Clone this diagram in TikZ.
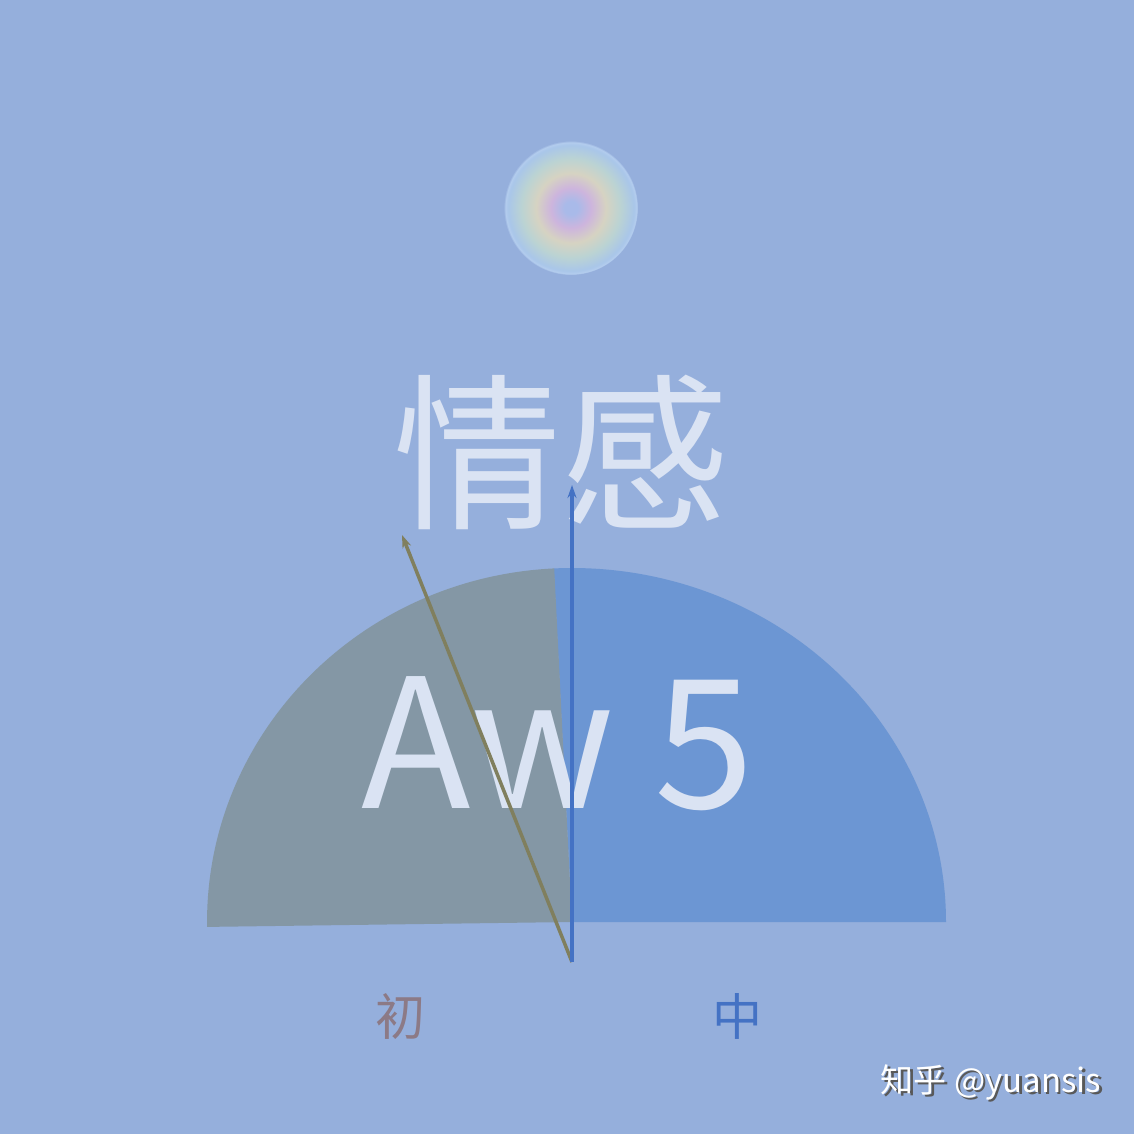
\documentclass[tikz,border=0pt]{standalone}
\usepackage{fontspec}
\newfontfamily\cjk{Noto Sans CJK SC}
\usetikzlibrary{arrows.meta,positioning,calc,shadows}
\definecolor{bgblue}{HTML}{95AFDC}
\definecolor{fanblue}{HTML}{6C96D3}
\definecolor{fangrey}{HTML}{8497A5}
\definecolor{paletext}{HTML}{DAE3F3}
\definecolor{olivearrow}{HTML}{807F5E}
\definecolor{deepblue}{HTML}{4472C4}
\definecolor{mauve}{HTML}{8C7A86}
\definecolor{halocore}{HTML}{A9BAE9}
\definecolor{halopink}{HTML}{CDB5DD}
\definecolor{haloyellow}{HTML}{D6D3C2}
\definecolor{halogreen}{HTML}{BBD3D3}
\definecolor{haloedge}{HTML}{A9C6E9}
\definecolor{halorim}{HTML}{B4CDEE}
\pgfdeclareradialshading{halo}{\pgfpoint{0bp}{0bp}}{%
  color(0bp)=(halocore);
  color(2.5bp)=(halocore);
  color(7.5bp)=(halopink);
  color(13bp)=(haloyellow);
  color(18.5bp)=(halogreen);
  color(23.5bp)=(haloedge);
  color(24.6bp)=(halorim);
  color(25bp)=(bgblue);
  color(50bp)=(bgblue)}
\tikzset{
    bigword/.style={
        text=paletext,
        font=\cjk\fontsize{168}{168}\selectfont,
        inner sep=0pt,
        anchor=base,
    },
    tag/.style={
        font=\cjk\fontsize{50}{50}\selectfont,
        inner sep=0pt,
        anchor=base,
    },
    vec/.style={
        line width=3.5pt,
        -{Stealth[length=13pt,width=9pt]},
    },
    watermark/.style={
        font=\cjk\fontsize{33}{33}\selectfont,
        inner sep=0pt,
        anchor=base,
    },
}

\begin{document}
\begin{tikzpicture}[x=1pt,y=-1pt]
	    \fill[bgblue] (0,0) rectangle (1134,1134);
	    \useasboundingbox (0,0) rectangle (1134,1134);
	    % halo
	    \shade[shading=halo] (571,208) circle[radius=67pt];
	    % fans
	    \coordinate (c) at (572,922);
	    \fill[fanblue] (c) -- (946,922) arc[start angle=0, end angle=92.8, x radius=374pt, y radius=354pt] -- cycle;
	    \fill[fangrey] (c) -- (554.2,568.4) arc[start angle=92.8, end angle=180.8, x radius=365pt, y radius=354pt] -- cycle;
	    % words
	    \node[bigword] (emo) at (561,516) {情感};
	    \node[bigword,font=\cjk\fontsize{180}{180}\selectfont] (aw) at (558,808) {Aw 5};
	    % arrows
	    \coordinate (o) at (572,962);
	    \coordinate (tipchu) at (402,535);
	    \coordinate (tipzhong) at (572,485);
	    \draw[vec,olivearrow] (o) -- (tipchu);
	    \draw[vec,deepblue] (o) -- (tipzhong);
	    % labels
	    \node[tag,text=mauve] (chu) at (400,1035) {初};
	    \node[tag,text=deepblue] (zhong) at (737,1035) {中};
	    \node[watermark,text=black!65] (wmshadow) at (993.5,1094.5) {知乎 @yuansis};
	    \node[watermark,text=white] (wm) at (991,1092) {知乎 @yuansis};
\end{tikzpicture}
\end{document}
